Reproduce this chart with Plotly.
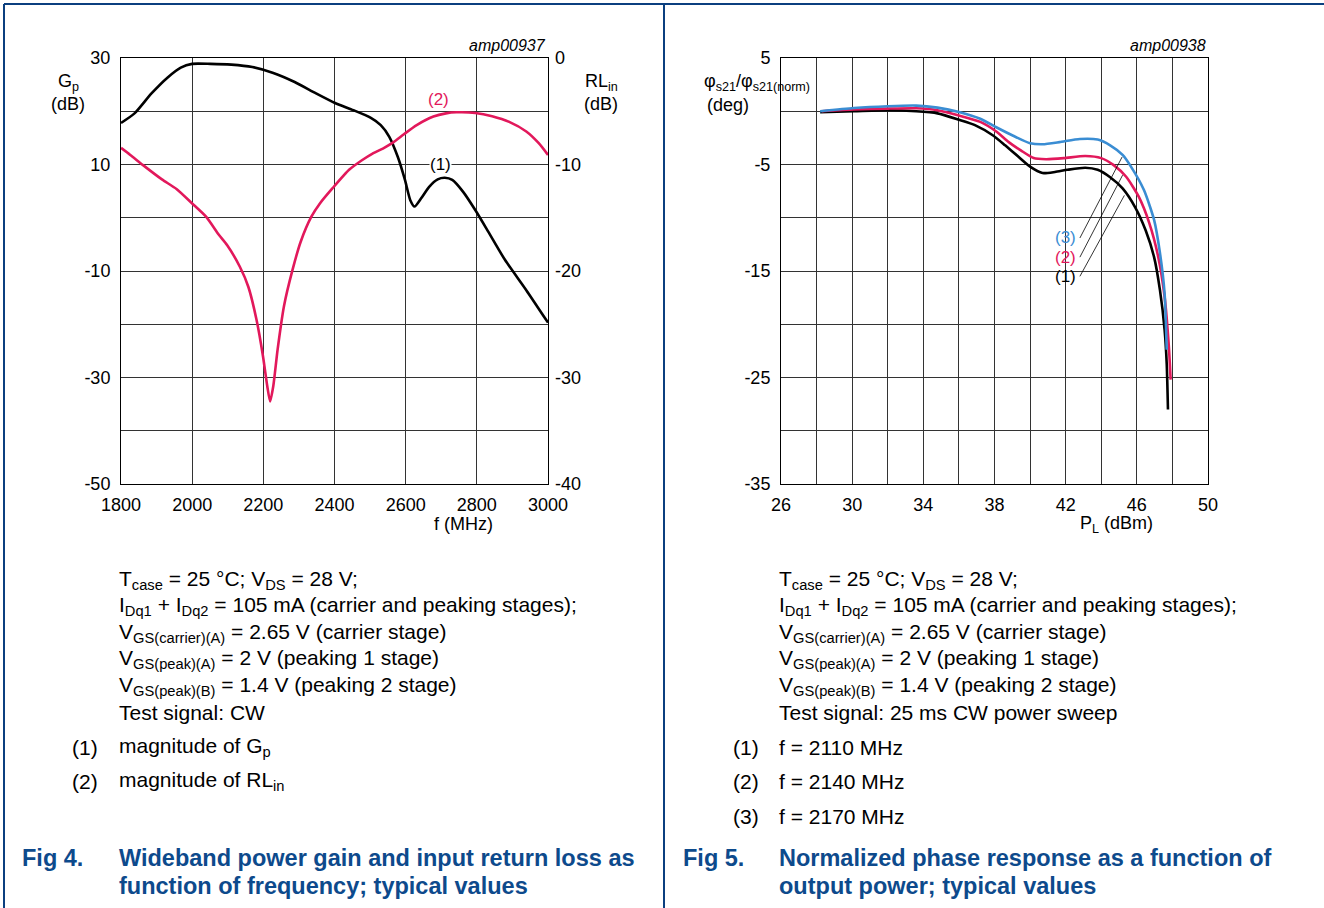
import plotly.graph_objects as go

W, H = 1324, 908
FONT = "Liberation Sans, Arial, sans-serif"
RED = "#E2185B"
BLUE = "#3A8DD3"
NAVY = "#0D4A8C"

# ---------------- Fig 4 data ----------------
gp_f = [1800, 1838, 1885, 1932, 1968, 2000, 2051, 2110, 2169, 2228, 2288, 2347, 2400, 2453,
        2501, 2530, 2554, 2578, 2598, 2613, 2625, 2643, 2666, 2690, 2710, 2731, 2761, 2796,
        2832, 2879, 2939, 3000]
gp_db = [17.8, 19.6, 23.3, 26.4, 28.2, 28.9, 28.9, 28.75, 28.3, 27.2, 25.5, 23.4, 21.6, 20.2,
         18.8, 17.4, 15.2, 11.4, 7.1, 3.3, 2.1, 3.6, 5.8, 7.2, 7.5, 7.1, 4.9, 1.4,
         -2.6, -7.9, -13.6, -19.7]

rl_f = [1800, 1826, 1862, 1915, 1956, 2000, 2039, 2075, 2098, 2134, 2158, 2181, 2199, 2211,
        2219, 2228, 2240, 2258, 2282, 2305, 2335, 2359, 2394, 2441, 2477, 2507, 2536, 2566,
        2595, 2631, 2678, 2713, 2743, 2796, 2843, 2891, 2939, 2974, 3000]
rl_db = [-8.44, -9.1, -10.06, -11.4, -12.3, -13.66, -14.9, -16.6, -17.56, -19.6, -21.5, -24.6,
         -28.0, -30.8, -32.25, -30.8, -27.4, -23.3, -19.9, -17.25, -14.9, -13.66, -12.25, -10.5,
         -9.6, -8.97, -8.5, -7.9, -7.16, -6.3, -5.5, -5.2, -5.1, -5.16, -5.47, -6.0, -6.9, -8.0, -9.1]

# ---------------- Fig 5 data ----------------
p1_x = [28.2, 30.1, 32.0, 33.6, 34.8, 36.0, 36.9, 37.9, 38.6, 39.3, 40.0, 40.7, 41.4, 42.1,
        43.1, 43.8, 44.5, 45.2, 45.9, 46.5, 46.97, 47.3, 47.56, 47.68, 47.75]
p1_y = [-0.1, 0.0, 0.1, 0.0, -0.2, -0.8, -1.3, -2.25, -3.2, -4.2, -5.2, -5.8, -5.7, -5.5,
        -5.3, -5.5, -6.2, -7.25, -9.0, -11.2, -13.7, -16.8, -20.5, -23.7, -28.0]

p2_x = [28.3, 30.1, 32.0, 33.6, 34.8, 36.0, 37.2, 38.1, 38.8, 39.5, 40.2, 40.9, 41.9, 43.1,
        44.0, 44.7, 45.4, 46.1, 46.7, 47.2, 47.56, 47.8, 47.9]
p2_y = [0.0, 0.16, 0.25, 0.28, 0.1, -0.4, -1.0, -1.9, -2.9, -3.7, -4.4, -4.5, -4.4, -4.2,
        -4.4, -5.06, -6.15, -8.0, -10.5, -13.65, -17.4, -22.1, -25.2]

p3_x = [28.2, 30.1, 32.0, 33.6, 34.8, 36.0, 37.2, 38.1, 39.05, 40.0, 40.7, 41.65, 42.8, 43.8,
        44.5, 45.2, 45.67, 46.4, 46.97, 47.3, 47.56, 47.68]
p3_y = [0.0, 0.3, 0.47, 0.53, 0.34, -0.06, -0.7, -1.5, -2.3, -3.0, -3.1, -2.9, -2.6, -2.66,
        -3.2, -4.1, -5.2, -7.4, -10.2, -13.3, -17.1, -22.4]

# tick labels
f4_xticks = [1800, 2000, 2200, 2400, 2600, 2800, 3000]
f4_yticks = [30, 10, -10, -30, -50]
f4_y2ticks = [0, -10, -20, -30, -40]
f5_xticks = [26, 30, 34, 38, 42, 46, 50]
f5_yticks = [5, -5, -15, -25, -35]

# curve label anchors
f5_lab_text = ["(3)", "(2)", "(1)"]
f5_lab_col = [BLUE, RED, "black"]
f5_lab_y = [-11.9, -13.7, -15.5]
f5_lead_end_x = [45.17, 45.2, 45.3]
f5_lead_end_y = [-4.3, -6.0, -7.9]


def px(x):
    return x / W


def py(y):
    return 1 - y / H


def labels(vals):
    return [str(v) for v in vals]


fig = go.Figure()
fig.add_trace(go.Scatter(x=gp_f, y=gp_db, mode="lines", line=dict(color="black", width=2.6, shape="spline", smoothing=0.6),
                         xaxis="x", yaxis="y", showlegend=False, hoverinfo="skip"))
fig.add_trace(go.Scatter(x=rl_f, y=rl_db, mode="lines", line=dict(color=RED, width=2.6, shape="spline", smoothing=0.6),
                         xaxis="x", yaxis="y2", showlegend=False, hoverinfo="skip"))
for xs, ys, c in [(p1_x, p1_y, "black"), (p2_x, p2_y, RED), (p3_x, p3_y, BLUE)]:
    fig.add_trace(go.Scatter(x=xs, y=ys, mode="lines", line=dict(color=c, width=2.6, shape="spline", smoothing=0.6),
                             xaxis="x2", yaxis="y3", showlegend=False, hoverinfo="skip"))

tickfont = dict(family=FONT, size=18, color="black")
grid = "#333333"
ydom = [py(484), py(58)]

common = dict(showline=True, linecolor="black", linewidth=1, mirror=True, ticks="", automargin=False,
              tickfont=tickfont, showgrid=True, gridcolor=grid, gridwidth=1, zeroline=False, fixedrange=True)

fig.update_layout(
    width=W, height=H, autosize=False,
    margin=dict(l=0, r=0, t=0, b=0, pad=0, autoexpand=False),
    paper_bgcolor="white", plot_bgcolor="white",
    font=dict(family=FONT, color="black"),
    xaxis=dict(domain=[px(121), px(548)], range=[1800, 3000], tickvals=f4_xticks, ticktext=labels(f4_xticks),
               anchor="y", ticklabelstandoff=4, **common),
    yaxis=dict(domain=ydom, range=[-50, 30], tickvals=f4_yticks, ticktext=labels(f4_yticks), anchor="x",
               minor=dict(dtick=10, tick0=-50, showgrid=True, gridcolor=grid, gridwidth=1),
               ticklabelstandoff=6, **common),
    yaxis2=dict(domain=ydom, range=[-40, 0], tickvals=f4_y2ticks, ticktext=labels(f4_y2ticks),
                overlaying="y", side="right", anchor="x", automargin=False,
                showline=False, showgrid=False, zeroline=False, ticks="", tickfont=tickfont,
                ticklabelstandoff=6, fixedrange=True),
    xaxis2=dict(domain=[px(781), px(1208)], range=[26, 50], tickvals=f5_xticks, ticktext=labels(f5_xticks),
                anchor="y3", minor=dict(dtick=2, tick0=26, showgrid=True, gridcolor=grid, gridwidth=1),
                ticklabelstandoff=4, **common),
    yaxis3=dict(domain=ydom, range=[-35, 5], tickvals=f5_yticks, ticktext=labels(f5_yticks), anchor="x2",
                minor=dict(dtick=5, tick0=-35, showgrid=True, gridcolor=grid, gridwidth=1),
                ticklabelstandoff=6, **common),
)

ann = []


def text(x, y, t, size=21, color="black", xanchor="left", yanchor="middle", bold=False, italic=False, bg=None):
    s = t
    if bold:
        s = "<b>" + s + "</b>"
    if italic:
        s = "<i>" + s + "</i>"
    d = dict(x=px(x), y=py(y), xref="paper", yref="paper", text=s, showarrow=False,
             xanchor=xanchor, yanchor=yanchor, font=dict(family=FONT, size=size, color=color))
    if bg:
        d["bgcolor"] = bg
    ann.append(d)


# axis titles Fig 4
text(68, 82, "G<sub>p</sub>", 18, xanchor="center")
text(68, 104, "(dB)", 18, xanchor="center")
text(601, 82, "RL<sub>in</sub>", 18, xanchor="center")
text(601, 104, "(dB)", 18, xanchor="center")
text(463, 524, "f (MHz)", 18, xanchor="center")
text(548, 46, "amp00937", 16, xanchor="right", italic=True)
# axis titles Fig 5
text(757, 83, "φ<sub>s21</sub>/φ<sub>s21(norm)</sub>", 18, xanchor="center")
text(728, 105, "(deg)", 18, xanchor="center")
text(1116, 524, "P<sub>L</sub> (dBm)", 18, xanchor="center")
text(1208, 46, "amp00938", 16, xanchor="right", italic=True)

# curve labels Fig 4
ann.append(dict(x=2697, y=10, xref="x", yref="y", text="(1)", showarrow=False, bgcolor="white",
                font=dict(family=FONT, size=17, color="black"), borderpad=0))
ann.append(dict(x=2692, y=-3.9, xref="x", yref="y2", text="(2)", showarrow=False,
                font=dict(family=FONT, size=17, color=RED)))
# curve labels Fig 5
for t, c, yy in zip(f5_lab_text, f5_lab_col, f5_lab_y):
    ann.append(dict(x=42.7, y=yy, xref="x2", yref="y3", text=t, showarrow=False, xanchor="right",
                    font=dict(family=FONT, size=17, color=c)))

shapes = []
for yy, ex, ey in zip(f5_lab_y, f5_lead_end_x, f5_lead_end_y):
    shapes.append(dict(type="line", xref="x2", yref="y3", x0=42.8, y0=yy, x1=ex, y1=ey,
                       line=dict(color="black", width=0.8)))

# conditions text
cond = [
    "T<sub>case</sub> = 25 °C; V<sub>DS</sub> = 28 V;",
    "I<sub>Dq1</sub> + I<sub>Dq2</sub> = 105 mA (carrier and peaking stages);",
    "V<sub>GS(carrier)(A)</sub> = 2.65 V (carrier stage)",
    "V<sub>GS(peak)(A)</sub> = 2 V (peaking 1 stage)",
    "V<sub>GS(peak)(B)</sub> = 1.4 V (peaking 2 stage)",
]
cond_y = [580, 606, 633, 659, 686]
for t, yy in zip(cond, cond_y):
    text(117, yy, t)
    text(777, yy, t)
text(117, 712, "Test signal: CW")
text(777, 712, "Test signal: 25 ms CW power sweep")

text(70, 747, "(1)")
text(117, 747, "magnitude of G<sub>p</sub>")
text(70, 781, "(2)")
text(117, 781, "magnitude of RL<sub>in</sub>")

for t, yy in zip(["(1)", "(2)", "(3)"], [747, 781, 816]):
    text(731, yy, t)
f5_items = ["f = 2110 MHz", "f = 2140 MHz", "f = 2170 MHz"]
for t, yy in zip(f5_items, [747, 781, 816]):
    text(777, yy, t)

# captions
CAP = 23.5
text(20, 858, "Fig 4.", CAP, NAVY, bold=True)
text(117, 858, "Wideband power gain and input return loss as", CAP, NAVY, bold=True)
text(117, 886, "function of frequency; typical values", CAP, NAVY, bold=True)
text(681, 858, "Fig 5.", CAP, NAVY, bold=True)
text(777, 858, "Normalized phase response as a function of", CAP, NAVY, bold=True)
text(777, 886, "output power; typical values", CAP, NAVY, bold=True)

# frame
frame = "#0B3F7F"
shapes.append(dict(type="line", xref="paper", yref="paper", x0=px(4), y0=py(4), x1=1, y1=py(4), line=dict(color=frame, width=2)))
shapes.append(dict(type="line", xref="paper", yref="paper", x0=px(4), y0=py(4), x1=px(4), y1=0, line=dict(color=frame, width=2)))
shapes.append(dict(type="line", xref="paper", yref="paper", x0=px(664), y0=py(4), x1=px(664), y1=0, line=dict(color=frame, width=2)))

fig.update_layout(annotations=ann, shapes=shapes)
fig.write_html("out.html", config={"displayModeBar": False})
